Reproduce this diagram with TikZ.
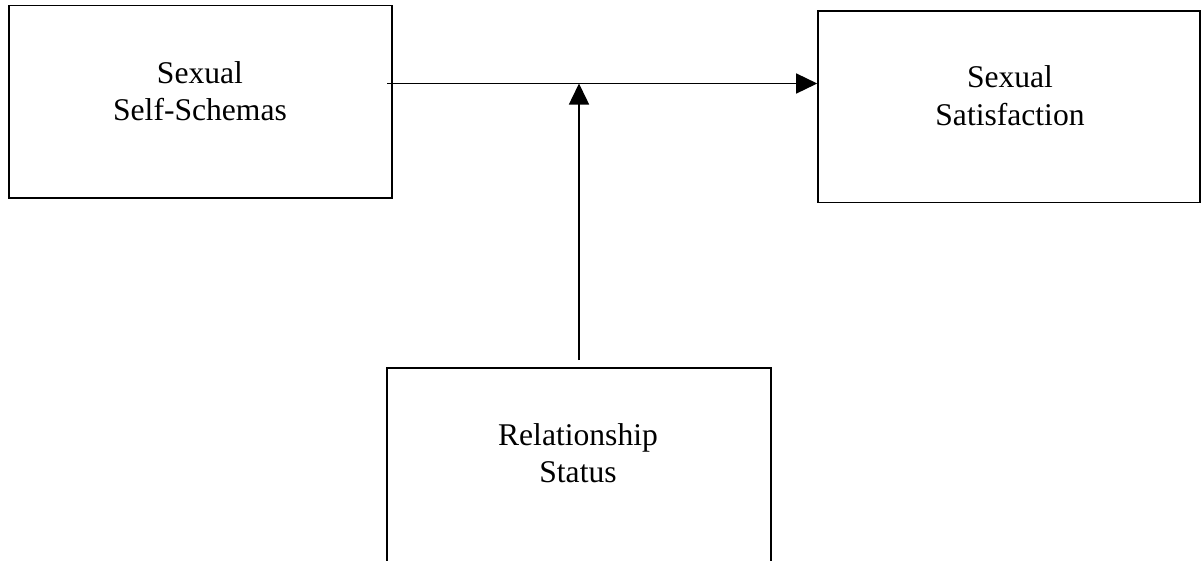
\documentclass[tikz,border=0pt]{standalone}
\usepackage{fontspec}
\setmainfont{Liberation Serif}
\usetikzlibrary{arrows.meta,calc}
\begin{document}
\begin{tikzpicture}[x=1pt,y=-1pt,
  box/.style={draw=black,line width=1.6pt,minimum width=#1,inner sep=0pt,anchor=center},
  lbl/.style={anchor=base,inner sep=0pt,font=\fontsize{31.6}{37.5}\selectfont},
  arr/.style={line width=1.5pt,-{Triangle[length=21pt,width=20pt]}}]
\useasboundingbox (0,0) rectangle (1202,560);
% boxes
\node[box=383pt,minimum height=192.5pt] (ssx) at (200.5,101.75) {};
\node[box=382pt,minimum height=191.5pt] (sat) at (1009,106.75) {};
\node[box=384pt,minimum height=194pt] (rel) at (579,465) {};
% labels
\node[lbl] (ssxt) at (200,83.3) {\begin{tabular}[t]{@{}c@{}}Sexual\\Self-Schemas\end{tabular}};
\node[lbl] (satt) at (1010,87.5) {\begin{tabular}[t]{@{}c@{}}Sexual\\Satisfaction\end{tabular}};
\node[lbl] (relt) at (578,445) {\begin{tabular}[t]{@{}c@{}}Relationship\\Status\end{tabular}};
% connectors
\coordinate (m) at (579,83.5);
\draw[arr] ($(ssx.east |- m)+(-5.5,0)$) -- (sat.west |- m);
\draw[arr] ($(rel.north)+(0,-7)$) -- (m);
\end{tikzpicture}
\end{document}
